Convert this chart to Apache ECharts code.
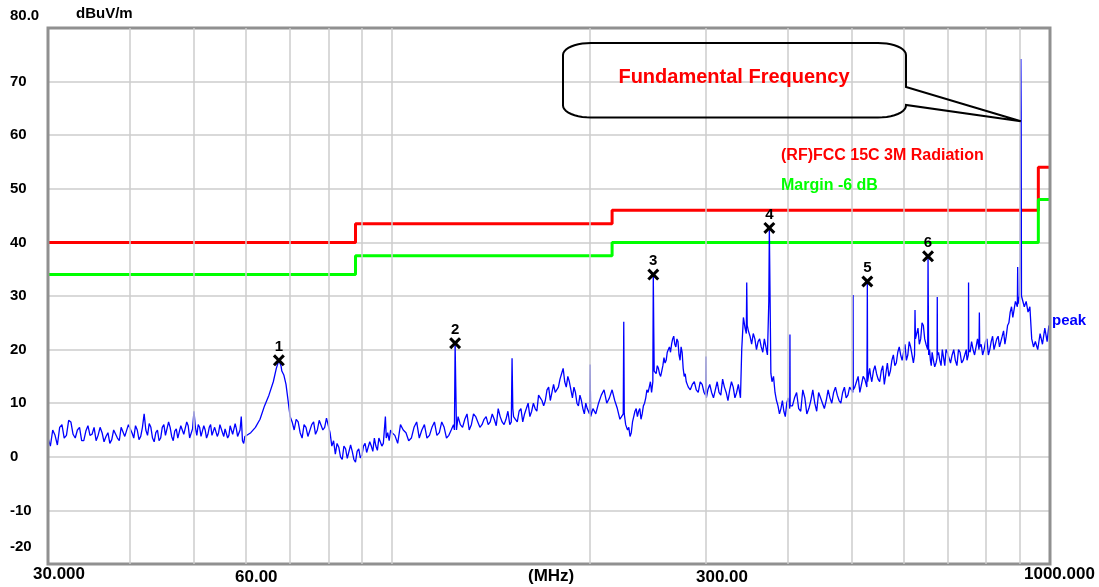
<!DOCTYPE html>
<html><head><meta charset="utf-8">
<script src="https://cdn.jsdelivr.net/npm/echarts@6/dist/echarts.min.js"></script>
<style>html,body{margin:0;padding:0;background:#fff}#c{width:1099px;height:587px}</style>
</head><body><div id="c"></div>
<script>
// ---- data (MHz, dBuV/m) ----
const trace30to60 = [[30,3.5],[30.25,2.0],[30.5,5.0],[30.75,4.0],[31,2.2],[31.25,5.5],[31.5,6.0],[31.75,3.5],[32,4.0],[32.25,6.8],[32.5,6.5],[32.75,4.2],[33,3.5],[33.25,5.0],[33.5,5.5],[33.75,3.0],[34,3.0],[34.25,4.8],[34.5,5.8],[34.75,4.0],[35,4.2],[35.25,5.5],[35.5,3.0],[35.75,4.0],[36,5.5],[36.25,4.5],[36.5,2.8],[36.75,3.8],[37,4.5],[37.25,2.5],[37.5,3.2],[37.75,5.0],[38,5.0],[38.25,3.5],[38.5,3.0],[38.75,5.5],[39,5.8],[39.25,3.8],[39.5,4.0],[39.75,6.0],[40,6.2],[40.25,4.5],[40.5,3.5],[40.75,5.8],[41,5.0],[41.25,3.2],[41.5,3.8],[41.75,5.5],[42,8.0],[42.25,5.0],[42.5,4.0],[42.75,6.2],[43,5.5],[43.25,3.5],[43.5,2.8],[43.75,4.5],[44,5.0],[44.25,3.0],[44.5,3.5],[44.75,5.5],[45,6.0],[45.25,4.0],[45.5,4.2],[45.75,6.5],[46,5.5],[46.25,3.8],[46.5,3.0],[46.75,4.8],[47,5.2],[47.25,3.5],[47.5,3.5],[47.75,5.8],[48,6.0],[48.25,4.2],[48.5,4.5],[48.75,6.5],[49,5.8],[49.25,3.5],[49.5,3.8],[49.75,5.2],[50,8.5],[50.25,5.5],[50.5,4.0],[50.75,6.0],[51,5.5],[51.25,3.8],[51.5,3.5],[51.75,5.8],[52,5.0],[52.25,3.5],[52.5,4.2],[52.75,5.5],[53,6.0],[53.25,4.0],[53.5,3.8],[53.75,5.5],[54,5.5],[54.25,3.8],[54.5,4.5],[54.75,6.0],[55,6.2],[55.25,4.5],[55.5,3.8],[55.75,5.2],[56,5.5],[56.25,3.5],[56.5,4.0],[56.75,5.8],[57,6.0],[57.25,4.2],[57.5,4.5],[57.75,6.2],[58,5.2],[58.25,3.8],[58.5,4.0],[58.75,5.0],[59,7.5],[59.25,3.0],[59.5,2.5],[59.75,3.8],[60,4.0]];
const trace60to100 = [[61,4.5],[62,5.5],[63,7.0],[64,9.5],[65,11.5],[66,14.0],[66.7,16.5],[67.3,18.0],[67.8,17.0],[68,16.0],[68.5,15.2],[69,13.5],[69.5,10.5],[70,7.5],[70.5,6.5],[71,5.0],[71.5,7.0],[72,6.5],[72.5,4.5],[73,3.5],[73.5,6.0],[74,5.5],[74.5,3.8],[75,4.0],[75.5,6.0],[76,6.5],[76.5,4.2],[77,5.0],[77.5,6.8],[78,7.0],[78.5,5.0],[79,5.5],[79.5,7.2],[80,7.0],[80.5,4.5],[81,2.0],[81.5,3.0],[82,0.5],[82.5,2.5],[83,1.8],[83.5,0.0],[84,-0.5],[84.5,2.0],[85,1.5],[85.5,-0.3],[86,0.0],[86.5,2.2],[87,1.0],[87.5,-0.5],[88,-1.0],[88.5,1.0],[89,1.5],[89.5,-0.2],[90,0.3],[90.5,2.0],[91,2.5],[91.5,0.8],[92,0.5],[92.5,2.8],[93,2.0],[93.5,1.0],[94,3.5],[94.5,2.0],[95,1.2],[95.5,3.5],[96,3.8],[96.5,2.0],[97,2.5],[97.7,7.5],[98,3.5],[98.5,4.5],[99,3.0],[99.5,5.0]];
const trace100to200 = [[100,4.5],[101,4.0],[102,2.5],[103,6.0],[104,5.0],[105,4.5],[106,3.0],[107,3.5],[108,5.5],[109,6.5],[110,3.5],[111,5.0],[112,6.0],[113,3.5],[114,4.0],[115,5.5],[116,6.5],[117,4.0],[118,4.5],[119,6.5],[120,5.5],[121,3.5],[122,4.0],[123,5.0],[124,6.0],[124.4,5.0],[124.7,21.2],[125.0,13.0],[125.3,5.0],[126,7.5],[127,6.0],[128,5.5],[129,7.0],[130,8.0],[131,5.0],[132,6.0],[133,8.0],[134,7.5],[135,6.5],[136,5.5],[137,6.0],[138,7.0],[139,7.5],[140,6.0],[141,6.5],[142,8.0],[143,7.0],[144,5.8],[145,9.0],[146,7.5],[147,6.5],[148,6.0],[149,7.0],[150,8.5],[151,6.0],[151.8,6.5],[152.2,18.4],[152.6,9.0],[153,7.5],[154,7.0],[155,6.5],[156,8.5],[157,9.0],[158,6.5],[159,8.0],[160,9.0],[161,10.0],[162,7.5],[163,8.5],[164,10.0],[165,9.0],[166,8.5],[167,11.5],[168,11.0],[169,10.5],[170,9.5],[171,10.5],[172,12.5],[173,13.0],[174,10.5],[175,12.0],[176,13.5],[177,12.0],[178,12.0],[179,13.0],[180,14.5],[181,15.5],[182,16.5],[183,14.0],[184,13.0],[185,15.0],[186,14.0],[187,12.5],[188,11.0],[189,13.0],[190,12.0],[191,10.0],[192,9.5],[193,11.5],[194,10.5],[195,9.0],[196,8.0],[197,10.0],[198,9.0],[199.6,8.0],[200,17.2],[200.4,7.5]];
const trace200to400 = [[202,9.0],[204,8.0],[206,10.0],[208,11.5],[210,12.5],[212,10.0],[214,11.0],[216,12.5],[218,10.5],[220,9.0],[222,7.0],[224.6,8.0],[225,25.2],[225.4,8.0],[226.5,6.0],[228,5.0],[229,5.5],[230,3.8],[231,4.5],[232,6.5],[233,7.5],[234,8.5],[235,9.0],[236,7.5],[237,8.5],[238,9.0],[239,7.0],[240,8.0],[241,9.5],[242,10.0],[243,11.0],[244,12.5],[245,12.0],[246,13.0],[247,14.0],[248,12.0],[249.1,14.0],[249.5,34.0],[249.9,24.0],[250.3,16.0],[252,15.5],[253,17.0],[254,16.5],[255,15.5],[256,15.0],[257,16.0],[258,17.0],[259,18.5],[260,17.5],[261,18.0],[262,19.5],[263,20.0],[264,20.5],[265,19.5],[266,21.0],[267,22.0],[268,22.5],[269,21.0],[270,20.5],[271,22.0],[272,21.5],[273,19.0],[274,18.0],[275,20.5],[276,19.5],[277,16.5],[278,15.0],[279,15.5],[280,14.0],[282,13.0],[284,12.5],[286,13.5],[288,14.0],[290,12.5],[292,12.0],[294,14.0],[296,13.5],[298,12.0],[299.6,11.5],[300,18.7],[300.4,11.0],[302,12.5],[304,13.5],[306,12.0],[308,11.0],[310,12.5],[312,14.0],[314,12.0],[316,11.5],[318,14.5],[320,13.0],[322,12.0],[324,10.5],[326,12.5],[328,14.0],[330,13.0],[332,11.0],[334,12.0],[336,13.5],[337,12.5],[338.5,11.0],[340,20.0],[342,26.0],[344,24.0],[345.5,23.0],[346,32.5],[346.6,24.5],[348,23.5],[350,22.5],[352,21.0],[354,23.0],[356,22.0],[358,20.0],[360,21.5],[362,22.0],[364,20.5],[366,19.5],[368,22.0],[370,20.5],[372,19.0],[373.8,29.0],[374.5,42.7],[375.3,31.7],[376.5,15.6],[378,14.0],[380,15.0],[382,12.0],[384,10.5],[386,9.5],[388,8.0],[390,9.0],[392,10.5],[394,8.5],[396,7.5],[398,10.0],[400,11.0]];
const trace400to1000 = [[402.2,9.0],[402.5,22.8],[402.8,9.5],[406,9.5],[409,11.0],[412,12.0],[415,9.0],[418,8.5],[421,12.5],[424,11.0],[427,8.0],[430,9.0],[433,10.5],[436,12.5],[439,10.0],[442,8.5],[445,12.0],[448,11.0],[451,10.0],[454,9.0],[457,10.5],[460,12.5],[463,11.0],[466,10.0],[469,12.0],[472,13.0],[475,11.5],[478,10.5],[481,10.0],[484,12.0],[487,13.0],[490,11.0],[493,11.5],[496,13.0],[499,12.5],[501.6,12.0],[502,30.2],[502.4,12.5],[505,13.0],[508,14.0],[511,15.0],[514,12.0],[517,13.5],[520,15.0],[523,14.5],[526.8,13.0],[527.3,21.8],[527.7,32.7],[528.2,14.0],[532,16.5],[534,15.0],[536,14.0],[539,16.0],[542,17.0],[545,15.5],[548,14.5],[551,14.0],[554,16.0],[557,17.0],[560,13.5],[563,15.5],[566,17.5],[569,15.0],[572,16.0],[575,18.0],[578,19.0],[581,17.0],[584,17.5],[587,19.5],[590,20.5],[593,19.0],[596,18.0],[599,19.5],[602,21.0],[605,18.0],[608,19.0],[611,21.5],[614,20.5],[617,19.0],[620,17.5],[622.5,19.0],[623.5,27.4],[624.5,22.0],[630,24.0],[633,21.0],[636,22.0],[639,25.0],[642,24.5],[645,22.0],[648,21.0],[651.8,20.0],[652.6,37.4],[653.2,28.7],[654,19.0],[656,20.0],[658,18.0],[660,17.0],[662,19.5],[665,18.0],[668,16.8],[671,17.5],[673.5,18.5],[674,29.8],[674.5,19.0],[677,19.5],[680,18.0],[683,17.0],[686,20.0],[689,18.5],[692,17.0],[695,20.0],[698,19.5],[702,18.5],[706,17.5],[710,19.0],[714,20.0],[718,18.0],[722,17.0],[726,20.0],[730,19.5],[734,17.5],[738,18.0],[742,19.0],[746,20.0],[748,18.0],[751.5,19.0],[752,32.5],[752.5,20.0],[756,19.5],[760,21.5],[764,20.0],[768,19.0],[772,20.5],[776,22.0],[780,20.0],[781,26.9],[782,20.5],[786,21.0],[790,19.0],[794,20.0],[798,21.5],[802,22.0],[806,19.0],[810,20.0],[814,21.5],[818,22.5],[822,20.0],[826,21.0],[830,22.0],[834,22.5],[838,20.5],[842,21.5],[846,22.5],[850,23.5],[854,21.0],[858,22.5],[862,24.5],[866,25.0],[870,27.0],[874,28.0],[878,26.0],[882,27.5],[886,29.0],[892,28.0],[893,35.4],[894,28.5],[899,30.0],[901,36.0],[903,74.2],[904,64.4],[905,30.0],[908,29.8],[914,28.0],[920,29.0],[926,27.0],[932,28.0],[938,22.0],[944,20.5],[950,21.5],[958,20.0],[966,23.0],[974,21.0],[982,24.0],[990,21.5],[996,24.5],[1000,24.0]];

const limitMHz  = [30, 88, 88, 216, 216, 960, 960, 1000];
const limitDb   = [40, 40, 43.5, 43.5, 46, 46, 54, 54];
const marginDb  = [34, 34, 37.5, 37.5, 40, 40, 48, 48];

const markerMHz   = [67.3, 124.7, 249.5, 374.5, 527.7, 652.6];
const markerDb    = [18.0, 21.2, 34.0, 42.7, 32.7, 37.4];
const markerNames = ['1', '2', '3', '4', '5', '6'];

const vGridMHz = [40, 50, 60, 70, 80, 90, 100, 200, 300, 400, 500, 600, 700, 800, 900];
const xTickLabels = ['30.000', '60.00', '(MHz)', '300.00', '1000.000'];
const yTopLabel = '80.0', yBottomLabel = '-20', yUnit = 'dBuV/m';
const limitName = '(RF)FCC 15C 3M Radiation', marginName = 'Margin -6 dB';
const calloutText = 'Fundamental Frequency';
const calloutTip = [903, 62.6];

// ---- chart ----
const FONT = '"Liberation Sans", Arial, sans-serif';
const trace = [].concat(trace30to60, trace60to100, trace100to200, trace200to400, trace400to1000);
const chart = echarts.init(document.getElementById('c'));

chart.setOption({
  animation: false,
  backgroundColor: '#ffffff',
  grid: { left: 48, right: 49, top: 28, bottom: 23, show: true, borderColor: '#909090', borderWidth: 3, backgroundColor: 'transparent', z: 5 },
  xAxis: { type: 'log', logBase: 10, min: 30, max: 1000,
    axisLine: { show: false }, axisTick: { show: false }, axisLabel: { show: false }, splitLine: { show: false } },
  yAxis: { type: 'value', min: -20, max: 80, interval: 10,
    axisLine: { show: false }, axisTick: { show: false },
    splitLine: { show: true, lineStyle: { color: '#cccccc', width: 1.5 } },
    axisLabel: { show: true, align: 'left', margin: 38, color: '#000', fontWeight: 'bold', fontSize: 15, fontFamily: FONT,
      formatter: v => (v === 80 || v === -20) ? '' : String(v) } },
  series: [
    { type: 'line', data: [], z: 1, silent: true,
      markLine: { silent: true, symbol: ['none', 'none'], label: { show: false },
        lineStyle: { color: '#cccccc', width: 1.5, type: 'solid' },
        data: vGridMHz.map(v => ({ xAxis: v })) } },
    { type: 'line', data: limitMHz.map((f, i) => [f, limitDb[i]]), symbol: 'none', z: 3,
      lineStyle: { color: '#ff0000', width: 3 } },
    { type: 'line', data: limitMHz.map((f, i) => [f, marginDb[i]]), symbol: 'none', z: 3,
      lineStyle: { color: '#00ff00', width: 3 } },
    { type: 'line', data: trace, symbol: 'none', z: 4,
      lineStyle: { color: '#0000ff', width: 1.3 },
      endLabel: { show: true, formatter: 'peak', color: '#0000ff', fontWeight: 'bold', fontSize: 15, fontFamily: FONT, distance: 2, offset: [0, -7] } },
    { type: 'scatter', z: 6,
      data: markerMHz.map((f, i) => ({ value: [f, markerDb[i]], name: markerNames[i] })),
      symbol: 'path://M0,1.8L1.8,0L5,3.2L8.2,0L10,1.8L6.8,5L10,8.2L8.2,10L5,6.8L1.8,10L0,8.2L3.2,5Z',
      symbolSize: 12, itemStyle: { color: '#000000', opacity: 1 },
      label: { show: true, position: 'top', distance: 0, formatter: p => p.name, color: '#000', opacity: 1, fontWeight: 'bold', fontSize: 15, fontFamily: FONT } }
  ]
});

function txt(text, x, y, opts) {
  return { type: 'text', x: x, y: y, z: 20, silent: true,
    style: Object.assign({ text: text, fill: '#000', fontWeight: 'bold', fontSize: 15, fontFamily: FONT,
      textAlign: 'left', align: 'left', textVerticalAlign: 'middle', verticalAlign: 'middle' }, opts || {}) };
}

// callout outline
const tip = chart.convertToPixel({ xAxisIndex: 0, yAxisIndex: 0 }, calloutTip);
const L = 563, T = 43, R = 906, B = 117.5, rx = 28, ry = 12, t1 = 87, t2 = 105;
const pts = [];
function arc(cx, cy, a0, a1) { for (let k = 0; k <= 10; k++) { const a = a0 + (a1 - a0) * k / 10; pts.push([cx + rx * Math.cos(a), cy + ry * Math.sin(a)]); } }
arc(R - rx, T + ry, -Math.PI / 2, 0);
pts.push([R, t1]); pts.push(tip); pts.push([R, t2]);
arc(R - rx, B - ry, 0, Math.PI / 2);
arc(L + rx, B - ry, Math.PI / 2, Math.PI);
arc(L + rx, T + ry, Math.PI, Math.PI * 1.5);

chart.setOption({
  graphic: [
    { type: 'polygon', z: 20, silent: true, shape: { points: pts }, style: { fill: 'none', stroke: '#000', lineWidth: 2 } },
    txt(calloutText, 734, 77, { fill: '#ff0000', fontSize: 20, textAlign: 'center', align: 'center' }),
    txt(yUnit, 76, 14),
    txt(yTopLabel, 10, 16),
    txt(yBottomLabel, 10, 547),
    txt(xTickLabels[0], 33, 574, { fontSize: 17 }),
    txt(xTickLabels[1], 235, 577, { fontSize: 17 }),
    txt(xTickLabels[2], 528, 576, { fontSize: 17 }),
    txt(xTickLabels[3], 696, 577, { fontSize: 17 }),
    txt(xTickLabels[4], 1024, 574, { fontSize: 17 }),
    txt(limitName, 781, 156, { fill: '#ff0000', fontSize: 16 }),
    txt(marginName, 781, 186, { fill: '#00ff00', fontSize: 16 })
  ]
});
</script>
</body></html>
